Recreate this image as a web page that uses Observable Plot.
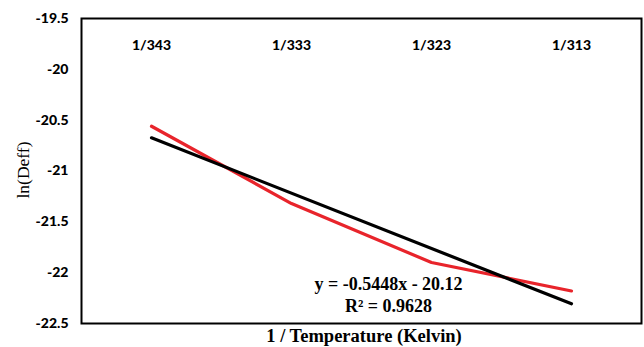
<!DOCTYPE html>
<html>
<head>
<meta charset="utf-8">
<script src="https://cdn.jsdelivr.net/npm/d3@7"></script>
<script src="https://cdn.jsdelivr.net/npm/@observablehq/plot@0.6"></script>
<style>
  html, body { margin: 0; padding: 0; background: #fff; }
  #chart svg { display: block; }
</style>
</head>
<body>
<div id="chart"></div>
<script>
const categories = ["1/343", "1/333", "1/323", "1/313"];
const positions = [1, 2, 3, 4];
const lnDeff = [-20.56, -21.32, -21.90, -22.18];
const yTicks = [-22.5, -22, -21.5, -21, -20.5, -20, -19.5];
const equationLines = ["y = -0.5448x - 20.12", "R² = 0.9628"];

const data = positions.map((p, i) => ({x: p, y: lnDeff[i], label: categories[i]}));

const chart = Plot.plot({
  width: 644,
  height: 347,
  marginLeft: 81,
  marginRight: 3,
  marginTop: 18,
  marginBottom: 24,
  style: {background: "#fff"},
  x: {domain: [0.5, 4.5], axis: null},
  y: {domain: [-22.5, -19.5], axis: null},
  marks: [
    Plot.axisY({
      ticks: yTicks,
      tickSize: 0,
      tickPadding: 13,
      tickFormat: d => String(d),
      fontSize: 14,
      fontWeight: 900,
      fontFamily: "Lato, sans-serif",
      fill: "#000",
      label: null
    }),
    Plot.text(data, {
      x: "x",
      text: "label",
      frameAnchor: "top",
      dy: 22,
      fontSize: 14,
      fontWeight: 900,
      fontFamily: "Lato, sans-serif",
      fill: "#000"
    }),
    Plot.line(data, {x: "x", y: "y", stroke: "#e8242b", strokeWidth: 3.2}),
    Plot.linearRegressionY(data, {x: "x", y: "y", stroke: "#000", strokeWidth: 3.2, ci: 0}),
    Plot.text([equationLines.join("\n")], {
      text: d => d,
      frameAnchor: "bottom",
      dx: 27,
      dy: -12,
      lineHeight: 1.22,
      lineAnchor: "bottom",
      fontSize: 18,
      fontWeight: "bold",
      fontFamily: "'Liberation Serif', 'Times New Roman', serif",
      fill: "#000"
    }),
    Plot.frame({stroke: "#000", strokeWidth: 2})
  ]
});

const svg = d3.select(chart);
svg.append("text")
  .attr("x", 364)
  .attr("y", 342)
  .attr("text-anchor", "middle")
  .attr("font-family", "'Liberation Serif', 'Times New Roman', serif")
  .attr("font-weight", "bold")
  .attr("font-size", 18.5)
  .attr("fill", "#000")
  .text("1 / Temperature (Kelvin)");
svg.append("text")
  .attr("transform", "translate(29,170) rotate(-90)")
  .attr("text-anchor", "middle")
  .attr("font-family", "'Liberation Serif', 'Times New Roman', serif")
  .attr("font-size", 17.5)
  .attr("fill", "#000")
  .text("ln(Deff)");

document.getElementById("chart").appendChild(chart);
</script>
</body>
</html>
